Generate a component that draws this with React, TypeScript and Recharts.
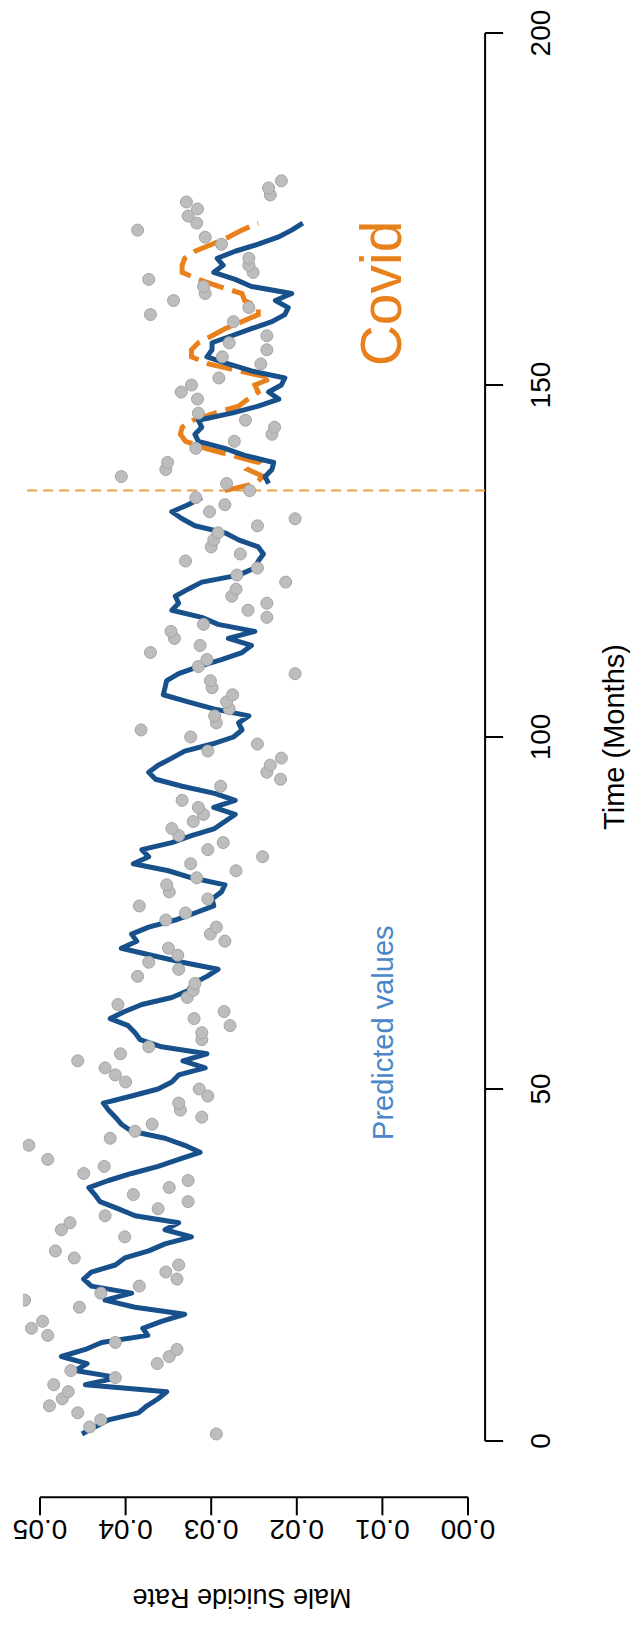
import React from 'react';
import { ComposedChart, Scatter, Line, XAxis, YAxis, ReferenceLine } from 'recharts';

// Observed monthly male suicide rate (grey points)
const obsMonths = [
  1, 2, 3, 4, 5, 6, 7, 8, 9, 10, 11, 12, 13, 14, 15, 16, 17, 19, 20, 21, 22, 23, 24, 25, 26, 27, 29, 30,
  31, 32, 33, 34, 35, 36, 37, 38, 39, 40, 42, 43, 44, 45, 46, 47, 48, 49, 50, 51, 52, 53, 54, 55, 56, 57,
  58, 59, 60, 61, 62, 63, 64, 65, 66, 67, 68, 69, 70, 71, 72, 73, 74, 75, 76, 77, 78, 79, 80, 81, 82, 83,
  84, 85, 86, 87, 88, 89, 90, 91, 93, 94, 95, 96, 97, 98, 99, 100, 101, 102, 103, 104, 105, 106, 107, 108,
  109, 110, 111, 112, 113, 114, 115, 116, 117, 118, 119, 120, 121, 122, 123, 124, 125, 126, 127, 128, 129,
  130, 131, 132, 133, 134, 135, 136, 137, 138, 139, 141, 142, 143, 144, 145, 146, 148, 149, 150, 151, 153,
  154, 155, 156, 157, 159, 160, 161, 162, 163, 164, 165, 166, 167, 168, 170, 171, 172, 173, 174, 175, 176,
  177, 178, 179,
];
const obsRates = [
  0.0294, 0.0442, 0.0429, 0.0456, 0.0489, 0.0474, 0.0467, 0.0484, 0.0412, 0.0464, 0.0363, 0.0349, 0.034,
  0.0412, 0.0491, 0.051, 0.0497, 0.0454, 0.0518, 0.0429, 0.0384, 0.034, 0.0353, 0.0338, 0.046, 0.0482,
  0.0401, 0.0475, 0.0465, 0.0424, 0.0362, 0.0327, 0.0391, 0.0349, 0.0327, 0.0449, 0.0425, 0.0491, 0.0513,
  0.0418, 0.0389, 0.0369, 0.0311, 0.0336, 0.0338, 0.0304, 0.0314, 0.04, 0.0412, 0.0424, 0.0456, 0.0406,
  0.0373, 0.0311, 0.0311, 0.0278, 0.032, 0.0285, 0.0409, 0.0328, 0.0321, 0.0319, 0.0386, 0.0338, 0.0373,
  0.0339, 0.035, 0.0284, 0.0301, 0.0294, 0.0353, 0.033, 0.0384, 0.0304, 0.0349, 0.0352, 0.0317, 0.0271,
  0.0324, 0.024, 0.0304, 0.0286, 0.0338, 0.0346, 0.0321, 0.0309, 0.0315, 0.0334, 0.0289, 0.0219, 0.0235,
  0.0231, 0.0218, 0.0304, 0.0246, 0.0324, 0.0382, 0.0294, 0.0296, 0.0279, 0.0282, 0.0275, 0.0299, 0.0301,
  0.0202, 0.0315, 0.0305, 0.0371, 0.0313, 0.0343, 0.0347, 0.0309, 0.0235, 0.0257, 0.0235, 0.0276, 0.0271,
  0.0213, 0.027, 0.0246, 0.033, 0.0266, 0.03, 0.0297, 0.0292, 0.0246, 0.0202, 0.0302, 0.0284, 0.0318,
  0.0255, 0.0282, 0.0405, 0.0353, 0.0351, 0.0318, 0.0273, 0.0229, 0.0226, 0.026, 0.0315, 0.0316, 0.0335,
  0.0323, 0.0291, 0.0242, 0.0287, 0.0235, 0.0279, 0.0235, 0.0274, 0.0371, 0.0256, 0.0344, 0.0307, 0.0309,
  0.0373, 0.0251, 0.0256, 0.0256, 0.0288, 0.0307, 0.0386, 0.0317, 0.0327, 0.0316, 0.0329, 0.0231, 0.0233,
  0.0218,
];

// Fitted values before Covid, months 1..134 (blue)
const fitPreStart = 1;
const fitPre = [
  0.0451, 0.0436, 0.042, 0.0385, 0.0375, 0.0362, 0.0352, 0.0447, 0.0409, 0.0459,
  0.0445, 0.0475, 0.0447, 0.0428, 0.0374, 0.038, 0.0358, 0.0331, 0.0389, 0.0424,
  0.0393, 0.044, 0.0449, 0.044, 0.0412, 0.0401, 0.0373, 0.0354, 0.0323, 0.0354,
  0.0338, 0.0389, 0.0409, 0.043, 0.0436, 0.0443, 0.042, 0.0393, 0.0362, 0.0338,
  0.0313, 0.0331, 0.0354, 0.0393, 0.0405, 0.0412, 0.042, 0.0426, 0.0393, 0.0362,
  0.0346, 0.0338, 0.0307, 0.0333, 0.0305, 0.0358, 0.0383, 0.0389, 0.0397, 0.0418,
  0.0401, 0.0381, 0.0346, 0.0327, 0.0321, 0.0305, 0.0292, 0.0334, 0.037, 0.0405,
  0.0387, 0.0393, 0.0373, 0.0342, 0.0319, 0.0297, 0.0299, 0.0288, 0.0284, 0.0323,
  0.035, 0.0391, 0.0373, 0.0381, 0.0346, 0.0323, 0.0296, 0.0284, 0.0272, 0.0297,
  0.0272, 0.0296, 0.0334, 0.0365, 0.0373, 0.0362, 0.0346, 0.0331, 0.0299, 0.0274,
  0.0264, 0.0268, 0.0256, 0.0297, 0.0327, 0.0356, 0.0354, 0.0352, 0.0338, 0.0315,
  0.0288, 0.0264, 0.0253, 0.028, 0.0249, 0.0292, 0.0311, 0.0346, 0.0338, 0.0342,
  0.0327, 0.0311, 0.0268, 0.0249, 0.0245, 0.0239, 0.0245, 0.0268, 0.0284, 0.0319,
  0.0334, 0.0346, 0.0327, 0.0311,
];

// Fitted values during Covid (blue)
const fitPostStart = 136;
const fitPost = [
  0.0233, 0.0237, 0.0229, 0.0227, 0.0261, 0.0284, 0.0315, 0.0319, 0.0311, 0.0315,
  0.0276, 0.0245, 0.0221, 0.0233, 0.0218, 0.0214, 0.0253, 0.028, 0.0305, 0.0299,
  0.0299, 0.0276, 0.0253, 0.0229, 0.0214, 0.021, 0.0225, 0.0206, 0.0253, 0.0272,
  0.0297, 0.0286, 0.0293, 0.0272, 0.0245, 0.0222, 0.0206, 0.0193,
];

// Counterfactual predicted values during Covid (orange dashed)
const cfStart = 135;
const cfRates = [
  0.0284, 0.0249, 0.0239, 0.0257, 0.0245, 0.0276, 0.0307, 0.033, 0.0336, 0.0334,
  0.0321, 0.0296, 0.0268, 0.0257, 0.0245, 0.0249, 0.0229, 0.0268, 0.0303, 0.0323,
  0.0323, 0.0315, 0.0299, 0.0284, 0.0264, 0.0245, 0.0245, 0.0261, 0.0264, 0.0291,
  0.0315, 0.0334, 0.0334, 0.0331, 0.0319, 0.0299, 0.028, 0.0264, 0.0245,
];

const covidMonth = 135;
const timeTicks = [0, 50, 100, 150, 200];
const rateTicks = [0, 0.01, 0.02, 0.03, 0.04, 0.05];
const annotations = [
  { x: 58, y: 0.0099, text: 'Predicted values', kind: 'pred' },
  { x: 163, y: 0.0102, text: 'Covid', kind: 'covid' },
];

const FONT = '"Liberation Sans", Arial, sans-serif';
const BLUE = '#17508b';
const ORANGE = '#e8801c';

const obsData = obsMonths.map((m, i) => ({ x: m, y: obsRates[i] }));
const preData = fitPre.map((v, i) => ({ x: fitPreStart + i, y: v }));
const postData = fitPost.map((v, i) => ({ x: fitPostStart + i, y: v }));
const cfData = cfRates.map((v, i) => ({ x: cfStart + i, y: v }));

const RATE_LABEL_X = 117;

const TimeTick = (props: any) => (
  <text x={props.x} y={540} textAnchor="middle" dominantBaseline="central" fontSize={28} fontFamily={FONT} fill="#000">
    {props.payload.value}
  </text>
);

const RateTick = (props: any) => (
  <text
    x={RATE_LABEL_X}
    y={props.y}
    transform={`rotate(-90, ${RATE_LABEL_X}, ${props.y})`}
    textAnchor="middle"
    dominantBaseline="central"
    fontSize={28}
    fontFamily={FONT}
    fill="#000"
  >
    {Number(props.payload.value).toFixed(2)}
  </text>
);

const Dot = (p: any) => (
  <circle cx={p.cx} cy={p.cy} r={6} fill="#bdbdbd" stroke="#a5a5a5" strokeWidth={1} />
);

const AnnShape = (p: any) => {
  const d = p.payload;
  const isCovid = d.kind === 'covid';
  return (
    <text
      x={p.cx}
      y={p.cy}
      textAnchor="middle"
      dominantBaseline="central"
      fontSize={isCovid ? 57 : 29}
      fontFamily={FONT}
      fill={isCovid ? ORANGE : '#4a86c8'}
    >
      {d.text}
    </text>
  );
};

export default function App() {
  return (
    <div style={{ position: 'absolute', left: 0, top: 0, width: 635, height: 1646, overflow: 'hidden', background: '#fff', fontFamily: FONT }}>
      <div
        style={{
          position: 'absolute',
          left: 0,
          top: 0,
          width: 1700,
          height: 635,
          transform: 'translate(0px, 1646px) rotate(-90deg)',
          transformOrigin: '0 0',
        }}
      >
        <ComposedChart width={1700} height={635} margin={{ top: 22.9, right: 30.7, left: 0, bottom: 0 }}>
          <XAxis
            dataKey="x"
            type="number"
            domain={[-8, 208]}
            ticks={timeTicks}
            interval={0}
            allowDataOverflow
            axisLine={false}
            tickLine={{ stroke: '#000', strokeWidth: 2 }}
            tickSize={18}
            height={149.9}
            tick={TimeTick}
          />
          <YAxis
            dataKey="y"
            type="number"
            domain={[-0.002, 0.052]}
            ticks={rateTicks}
            interval={0}
            allowDataOverflow
            axisLine={false}
            tickLine={{ stroke: '#000', strokeWidth: 2 }}
            tickSize={18}
            width={148.7}
            tick={RateTick}
          />
          <ReferenceLine segment={[{ x: 0, y: -0.002 }, { x: 200, y: -0.002 }]} stroke="#000" strokeWidth={2} ifOverflow="visible" />
          <ReferenceLine segment={[{ x: -8, y: 0 }, { x: -8, y: 0.05 }]} stroke="#000" strokeWidth={2} ifOverflow="visible" />
          <Scatter data={obsData} dataKey="y" shape={Dot} isAnimationActive={false} />
          <ReferenceLine x={covidMonth} stroke="#e5a04a" strokeWidth={2} strokeDasharray="10 6" />
          <Line data={preData} dataKey="y" type="linear" stroke={BLUE} strokeWidth={5} dot={false} strokeLinejoin="round" isAnimationActive={false} />
          <Line data={cfData} dataKey="y" type="linear" stroke={ORANGE} strokeWidth={5} strokeDasharray="26 9" dot={false} isAnimationActive={false} />
          <Line data={postData} dataKey="y" type="linear" stroke={BLUE} strokeWidth={5} dot={false} strokeLinejoin="round" isAnimationActive={false} />
          <Scatter data={annotations} dataKey="y" shape={AnnShape} isAnimationActive={false} />
        </ComposedChart>
        <div
          style={{
            position: 'absolute',
            left: 909,
            top: 614,
            transform: 'translate(-50%, -50%)',
            fontSize: 29,
            lineHeight: 1,
            whiteSpace: 'nowrap',
            fontFamily: FONT,
            color: '#000',
          }}
        >
          Time (Months)
        </div>
        <div
          style={{
            position: 'absolute',
            left: 49,
            top: 242,
            transform: 'translate(-50%, -50%) rotate(-90deg)',
            fontSize: 27,
            lineHeight: 1,
            whiteSpace: 'nowrap',
            fontFamily: FONT,
            color: '#000',
          }}
        >
          Male Suicide Rate
        </div>
      </div>
    </div>
  );
}
